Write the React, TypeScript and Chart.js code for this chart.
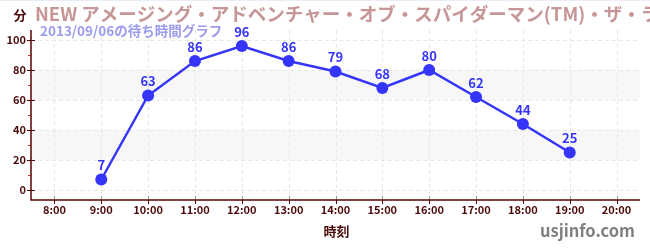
import React, { useEffect, useRef } from 'react';
import { Chart, registerables } from 'chart.js';

Chart.register(...registerables);

const hours = ['8:00', '9:00', '10:00', '11:00', '12:00', '13:00', '14:00', '15:00', '16:00', '17:00', '18:00', '19:00', '20:00'];
const waits: (number | null)[] = [null, 7, 63, 86, 96, 86, 79, 68, 80, 62, 44, 25, null];
const yTicks = [0, 20, 40, 60, 80, 100];
const yMinorTicks = [10, 30, 50, 70, 90];
const bands: [number, number][] = [[20, 40], [60, 80]];
const titleText = 'NEW アメージング・アドベンチャー・オブ・スパイダーマン(TM)・ザ・ライド 4K3D';
const subtitleText = '2013/09/06の待ち時間グラフ';
const yUnit = '分';
const xTitle = '時刻';
const siteText = 'usjinfo.com';

const FONT = '"Noto Sans CJK JP", "Noto Sans", sans-serif';
const AXIS = '#5a0505';
const LABEL = '#4d0a0a';
const LINE = '#3535fa';

const decorPlugin = {
  id: 'decor',
  beforeDatasetsDraw(chart: any) {
    const { ctx, chartArea, scales } = chart;
    const x = scales.x;
    const y = scales.y;
    ctx.save();
    ctx.fillStyle = '#f7f7f7';
    for (const [a, b] of bands) {
      const top = y.getPixelForValue(b);
      const bot = y.getPixelForValue(a);
      ctx.fillRect(chartArea.left, top, chartArea.right - chartArea.left, bot - top);
    }
    ctx.strokeStyle = '#e6e6e6';
    ctx.lineWidth = 1;
    ctx.setLineDash([4, 3]);
    for (let i = 0; i < hours.length; i++) {
      const px = Math.round(x.getPixelForValue(i)) + 0.5;
      ctx.beginPath();
      ctx.moveTo(px, chartArea.top);
      ctx.lineTo(px, chartArea.bottom);
      ctx.stroke();
    }
    for (const v of yTicks) {
      const py = Math.round(y.getPixelForValue(v)) + 0.5;
      ctx.beginPath();
      ctx.moveTo(chartArea.left, py);
      ctx.lineTo(chartArea.right, py);
      ctx.stroke();
    }
    ctx.setLineDash([]);
    for (let i = 0; i < hours.length; i++) {
      const px = Math.round(x.getPixelForValue(i)) + 0.5;
      ctx.strokeStyle = '#999999';
      ctx.beginPath();
      ctx.moveTo(px, chartArea.bottom - 4);
      ctx.lineTo(px, chartArea.bottom);
      ctx.stroke();
      ctx.strokeStyle = AXIS;
      ctx.beginPath();
      ctx.moveTo(px, chartArea.bottom);
      ctx.lineTo(px, chartArea.bottom + 4);
      ctx.stroke();
    }
    ctx.strokeStyle = AXIS;
    for (const v of yTicks) {
      const py = Math.round(y.getPixelForValue(v)) + 0.5;
      ctx.beginPath();
      ctx.moveTo(chartArea.left - 4, py);
      ctx.lineTo(chartArea.left + 4, py);
      ctx.stroke();
    }
    ctx.strokeStyle = '#e02828';
    for (const v of yMinorTicks) {
      const py = Math.round(y.getPixelForValue(v)) + 0.5;
      ctx.beginPath();
      ctx.moveTo(chartArea.left - 3, py);
      ctx.lineTo(chartArea.left, py);
      ctx.stroke();
    }
    ctx.strokeStyle = AXIS;
    ctx.lineWidth = 1.5;
    ctx.beginPath();
    ctx.moveTo(chartArea.left, chartArea.top);
    ctx.lineTo(chartArea.left, chartArea.bottom);
    ctx.lineTo(chartArea.right, chartArea.bottom);
    ctx.stroke();
    ctx.restore();
  },
  afterDatasetsDraw(chart: any) {
    const { ctx } = chart;
    const meta = chart.getDatasetMeta(0);
    ctx.save();
    ctx.font = `bold 13px ${FONT}`;
    ctx.fillStyle = LINE;
    ctx.textAlign = 'center';
    ctx.textBaseline = 'middle';
    meta.data.forEach((pt: any, i: number) => {
      const v = waits[i];
      if (v === null || v === undefined) return;
      ctx.fillText(String(v), pt.x, pt.y - 14);
    });
    ctx.restore();
  },
  afterDraw(chart: any) {
    const { ctx, chartArea } = chart;
    ctx.save();
    ctx.fillStyle = '#ececf8';
    ctx.fillRect(0, 0, chart.width, 1);
    ctx.textBaseline = 'alphabetic';
    ctx.textAlign = 'left';
    ctx.font = `bold 18.5px ${FONT}`;
    ctx.fillStyle = '#c69696';
    ctx.fillText(titleText, 35, 21);
    ctx.font = `bold 13.5px ${FONT}`;
    ctx.fillStyle = '#9b9bef';
    ctx.fillText(subtitleText, 40, 36);
    ctx.font = `bold 13px ${FONT}`;
    ctx.fillStyle = LABEL;
    ctx.textAlign = 'center';
    ctx.fillText(yUnit, 20, 20);
    ctx.fillText(xTitle, (chartArea.left + chartArea.right) / 2 + 1, 236);
    ctx.font = `bold 16.5px ${FONT}`;
    ctx.fillStyle = '#808080';
    ctx.textAlign = 'right';
    ctx.fillText(siteText, 635, 237);
    ctx.restore();
  },
};

export default function App() {
  const ref = useRef<HTMLCanvasElement | null>(null);
  useEffect(() => {
    document.body.style.margin = '0';
    const canvas = ref.current!;
    const chart = new Chart(canvas, {
      type: 'line',
      data: {
        labels: hours,
        datasets: [
          {
            data: waits,
            borderColor: LINE,
            backgroundColor: LINE,
            borderWidth: 2.5,
            pointRadius: 6,
            pointBackgroundColor: LINE,
            pointBorderWidth: 0,
            tension: 0,
            spanGaps: false,
          },
        ],
      },
      options: {
        responsive: false,
        animation: false,
        layout: { padding: { top: 30, right: 10, left: 0, bottom: 0 } },
        plugins: { legend: { display: false }, tooltip: { enabled: false }, title: { display: false } },
        scales: {
          x: {
            type: 'category',
            offset: true,
            grid: { display: false, drawTicks: false },
            border: { display: false },
            ticks: { color: LABEL, font: { family: FONT, size: 11, weight: 'bold' }, padding: 3, maxRotation: 0, autoSkip: false },
            afterFit: (s: any) => { s.height = 50; },
          },
          y: {
            min: -6.67,
            max: 106.67,
            grid: { display: false, drawTicks: false },
            border: { display: false },
            ticks: { color: LABEL, font: { family: FONT, size: 11, weight: 'bold' }, padding: 5 },
            afterBuildTicks: (s: any) => { s.ticks = yTicks.map((v) => ({ value: v })); },
            afterFit: (s: any) => { s.width = 31; },
          },
        },
      },
      plugins: [decorPlugin],
    } as any);
    return () => chart.destroy();
  }, []);
  return <canvas ref={ref} width={650} height={250} style={{ display: 'block', width: 650, height: 250 }} />;
}
